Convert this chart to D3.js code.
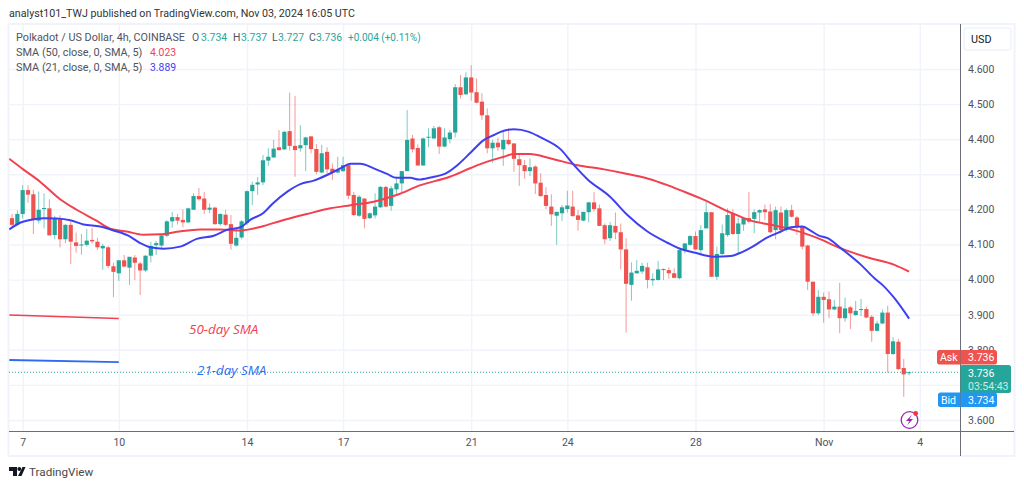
<!DOCTYPE html>
<html lang="en">
<head>
<meta charset="UTF-8"/>
<title>Polkadot / US Dollar 4h</title>
<script src="https://d3js.org/d3.v7.min.js"></script>
<style>
body { margin: 0; background: #fff; }
text { font-family: Roboto, sans-serif; }
</style>
</head>
<body>
<script>
// candles, one per 4h
var opens = [
    4.175,4.156,4.187,4.255,4.243,4.168,4.201,4.203,4.127,4.172,
    4.115,4.156,4.106,4.098,4.099,4.113,4.108,4.089,4.092,4.038,
    4.018,4.055,4.034,4.063,4.046,4.026,4.068,4.098,4.097,4.125,
    4.166,4.178,4.170,4.163,4.199,4.238,4.231,4.199,4.205,4.158,
    4.185,4.158,4.097,4.120,4.161,4.252,4.271,4.277,4.339,4.348,
    4.377,4.371,4.423,4.381,4.374,4.383,4.408,4.372,4.305,4.364,
    4.316,4.305,4.309,4.326,4.241,4.182,4.231,4.175,4.183,4.206,
    4.264,4.210,4.257,4.274,4.309,4.402,4.375,4.325,4.405,4.402,
    4.434,4.379,4.400,4.419,4.548,4.528,4.576,4.534,4.507,4.468,
    4.374,4.390,4.371,4.398,4.388,4.343,4.326,4.309,4.322,4.276,
    4.241,4.208,4.182,4.189,4.201,4.208,4.183,4.168,4.192,4.220,
    4.203,4.155,4.118,4.153,4.135,4.086,3.985,4.018,4.023,4.035,
    3.998,3.999,4.030,4.027,4.018,4.004,4.082,4.099,4.124,4.084,
    4.146,4.192,4.008,4.073,4.127,4.189,4.130,4.157,4.175,4.173,
    4.191,4.200,4.194,4.141,4.191,4.141,4.198,4.177,4.151,4.097,
    3.994,3.904,3.951,3.944,3.915,3.923,3.890,3.921,3.899,3.914,
    3.916,3.894,3.854,3.875,3.906,3.788,3.823,3.748,3.734
];
var closes = [
    4.156,4.187,4.255,4.242,4.170,4.199,4.204,4.126,4.175,4.115,
    4.156,4.108,4.096,4.100,4.111,4.109,4.092,4.096,4.039,4.022,
    4.055,4.037,4.065,4.048,4.026,4.068,4.096,4.104,4.126,4.166,
    4.178,4.168,4.163,4.203,4.238,4.229,4.199,4.205,4.158,4.187,
    4.156,4.102,4.119,4.166,4.252,4.270,4.277,4.340,4.350,4.373,
    4.369,4.421,4.381,4.369,4.383,4.405,4.372,4.307,4.360,4.314,
    4.305,4.312,4.326,4.239,4.184,4.236,4.173,4.189,4.208,4.264,
    4.208,4.260,4.274,4.309,4.398,4.371,4.325,4.402,4.407,4.431,
    4.379,4.405,4.419,4.548,4.526,4.576,4.533,4.504,4.468,4.374,
    4.390,4.377,4.398,4.386,4.344,4.326,4.309,4.320,4.274,4.238,
    4.210,4.186,4.193,4.206,4.211,4.181,4.170,4.193,4.220,4.201,
    4.153,4.115,4.155,4.134,4.086,3.988,4.020,4.025,4.039,3.999,
    4.002,4.029,4.027,4.018,4.005,4.084,4.103,4.124,4.086,4.141,
    4.192,4.008,4.073,4.132,4.184,4.130,4.160,4.175,4.165,4.192,
    4.198,4.192,4.135,4.198,4.141,4.198,4.179,4.151,4.094,3.994,
    3.904,3.951,3.942,3.915,3.923,3.890,3.918,3.904,3.911,3.916,
    3.892,3.854,3.875,3.906,3.788,3.824,3.745,3.730,3.736
];
var highs = [
    4.187,4.197,4.269,4.269,4.256,4.251,4.246,4.229,4.182,4.183,
    4.159,4.165,4.134,4.130,4.144,4.147,4.119,4.102,4.096,4.048,
    4.055,4.070,4.065,4.070,4.051,4.070,4.108,4.110,4.128,4.169,
    4.193,4.187,4.200,4.205,4.246,4.261,4.250,4.217,4.208,4.189,
    4.199,4.184,4.146,4.170,4.254,4.279,4.292,4.355,4.374,4.398,
    4.426,4.424,4.533,4.523,4.440,4.407,4.408,4.386,4.384,4.377,
    4.331,4.350,4.350,4.326,4.250,4.241,4.231,4.191,4.246,4.267,
    4.267,4.267,4.293,4.309,4.483,4.412,4.385,4.405,4.431,4.438,
    4.438,4.431,4.426,4.557,4.583,4.590,4.611,4.573,4.531,4.488,
    4.398,4.405,4.421,4.431,4.388,4.355,4.341,4.345,4.326,4.303,
    4.263,4.243,4.193,4.213,4.253,4.253,4.198,4.193,4.222,4.249,
    4.214,4.160,4.164,4.191,4.160,4.118,4.049,4.056,4.048,4.048,
    4.018,4.053,4.032,4.035,4.032,4.086,4.105,4.127,4.137,4.155,
    4.222,4.192,4.094,4.157,4.203,4.200,4.177,4.177,4.249,4.200,
    4.200,4.214,4.215,4.208,4.208,4.203,4.213,4.181,4.151,4.099,
    3.994,3.970,3.963,3.966,3.942,3.991,3.949,3.925,3.939,3.945,
    3.923,3.899,3.883,3.915,3.926,3.836,3.831,3.774,3.737
];
var lows = [
    4.153,4.153,4.174,4.219,4.130,4.160,4.146,4.126,4.115,4.092,
    4.104,4.044,4.077,4.071,4.094,4.102,4.085,4.028,4.032,3.950,
    3.996,4.035,3.985,3.999,3.956,4.022,4.049,4.070,4.091,4.121,
    4.148,4.157,4.149,4.161,4.199,4.225,4.187,4.189,4.156,4.153,
    4.153,4.085,4.094,4.115,4.156,4.212,4.241,4.269,4.324,4.346,
    4.367,4.369,4.367,4.293,4.364,4.309,4.360,4.301,4.303,4.295,
    4.284,4.303,4.307,4.229,4.181,4.179,4.146,4.172,4.174,4.204,
    4.206,4.196,4.240,4.249,4.309,4.362,4.325,4.325,4.377,4.402,
    4.358,4.377,4.388,4.405,4.516,4.526,4.510,4.502,4.455,4.360,
    4.333,4.367,4.324,4.383,4.307,4.267,4.287,4.295,4.244,4.236,
    4.201,4.153,4.099,4.167,4.191,4.179,4.139,4.166,4.163,4.194,
    4.153,4.101,4.110,4.115,4.029,3.849,3.940,4.016,4.016,3.975,
    3.982,3.997,3.999,4.003,4.004,4.001,4.075,4.096,4.084,4.070,
    4.146,4.008,3.999,4.070,4.122,4.127,4.073,4.139,4.160,4.132,
    4.160,4.170,4.132,4.115,4.137,4.137,4.177,4.127,4.086,3.970,
    3.896,3.899,3.877,3.890,3.913,3.847,3.880,3.859,3.897,3.896,
    3.890,3.823,3.852,3.873,3.735,3.785,3.742,3.666,3.727
];

// moving averages, sampled along the drawn lines (candle position, price)
var sma21Pos = [-0.5,1.5,3.4,5.9,8.4,10.9,13.4,16.5,19,21.8,24,25.9,28.4,31.5,34.6,37.8,40.3,42.8,44.6,47,49,51.5,54,56.5,59,61.5,63.4,65.25,67.75,70.25,72,74.6,76.2,78.4,81.5,83.4,85.9,88.4,90.25,92.1,94,96.8,99,102.75,105.25,107.75,112,115.25,119,122.75,125.25,127.75,131.5,134.6,136.2,138.7,141.2,144,145.9,148,149.4,151,152.75,155.25,159,161.5,163,165.25,168];
var sma21Val = [4.143,4.162,4.170,4.175,4.174,4.169,4.157,4.151,4.140,4.125,4.104,4.092,4.088,4.094,4.116,4.125,4.142,4.149,4.170,4.189,4.219,4.250,4.272,4.282,4.298,4.317,4.330,4.330,4.317,4.301,4.290,4.290,4.285,4.291,4.305,4.326,4.362,4.398,4.412,4.424,4.428,4.421,4.405,4.371,4.326,4.286,4.236,4.184,4.137,4.105,4.087,4.077,4.065,4.067,4.075,4.094,4.118,4.137,4.149,4.151,4.141,4.126,4.118,4.089,4.042,4.004,3.985,3.947,3.889];
var sma50Pos = [-0.5,2.1,5.25,9,12.1,15.9,18.4,21.5,24.6,27.75,30.9,35.25,39,42.75,46.5,50.9,55.25,59.6,63.4,67.75,72,76.5,82,85.9,89,92.1,94,97,100.9,105.9,110.9,114.6,119,122.75,125.25,129.6,134.6,138.4,142.1,146.5,150.9,155.25,160.25,165.25,168];
var sma50Val = [4.344,4.314,4.279,4.229,4.199,4.167,4.145,4.137,4.128,4.129,4.136,4.143,4.143,4.140,4.150,4.170,4.187,4.203,4.212,4.222,4.241,4.269,4.293,4.318,4.336,4.350,4.358,4.358,4.345,4.326,4.314,4.303,4.288,4.269,4.254,4.227,4.191,4.168,4.156,4.141,4.118,4.089,4.063,4.042,4.023];

// the two hand drawn legend strokes
var key50 = [3.899, 3.889];
var key21 = [3.771, 3.765];
var keySpan = [-0.5, 20];

var priceTicks = [3.6,3.7,3.8,3.9,4.0,4.1,4.2,4.3,4.4,4.5,4.6];
var dayPos = [2,20,44,62,86,104,128,152,170];
var dayLabels = ["7","10","14","17","21","24","28","Nov","4"];
var lastPrice = 3.736;

var w = 1024;
var h = 487;
var left = 9;       // chart pane edges
var right = 960;
var top_ = 25;
var bottom = 431;

var UP = "#26a69a";
var DOWN = "#ef5350";
var GRID = "#f0f3fa";
var GREY = "#50535e";
var RED_LINE = "#f2404f";
var BLUE_LINE = "#3f3ff2";

var x = d3.scaleLinear().domain([0, 168]).range([12, 909.1]);
var y = d3.scaleLinear().domain([3.6, 4.6]).range([420, 69]);

var svg = d3.select("body").append("svg")
    .attr("width", w)
    .attr("height", h)
    .style("display", "block");

svg.append("clipPath").attr("id", "pane").append("rect")
    .attr("x", left).attr("y", top_)
    .attr("width", right - left).attr("height", bottom - top_);

// outer frame
svg.append("rect")
    .attr("x", 8.5).attr("y", 24)
    .attr("width", 1006).attr("height", 432)
    .attr("fill", "none").attr("stroke", GRID).attr("stroke-width", 2);

// grid, the axes tick lines do the work
var gridX = svg.append("g")
    .attr("transform", "translate(0," + bottom + ")")
    .call(d3.axisBottom(x).tickValues(dayPos).tickSize(-(bottom - top_)).tickFormat(""));
gridX.select(".domain").remove();
gridX.selectAll("line").attr("stroke", GRID).attr("stroke-width", 1.4);

var gridY = svg.append("g")
    .attr("transform", "translate(" + right + ",0)")
    .call(d3.axisLeft(y).tickValues(priceTicks).tickSize(right - left).tickFormat(""));
gridY.select(".domain").remove();
gridY.selectAll("line").attr("stroke", GRID).attr("stroke-width", 1.4);

var pane = svg.append("g").attr("clip-path", "url(#pane)");

// last price dotted line
pane.append("line")
    .attr("x1", left).attr("x2", right)
    .attr("y1", y(lastPrice)).attr("y2", y(lastPrice))
    .attr("stroke", UP).attr("stroke-width", 1).attr("stroke-dasharray", "1 2");

// candles
var candles = pane.selectAll("g.candle")
    .data(d3.range(opens.length))
    .enter()
    .append("g")
    .attr("class", "candle");

candles.append("line")
    .attr("x1", function (i) { return x(i); })
    .attr("x2", function (i) { return x(i); })
    .attr("y1", function (i) { return y(highs[i]); })
    .attr("y2", function (i) { return y(lows[i]); })
    .attr("stroke", function (i) { return closes[i] >= opens[i] ? UP : DOWN; })
    .attr("stroke-opacity", 0.6)
    .attr("stroke-width", 1);

candles.append("rect")
    .attr("x", function (i) { return x(i) - 2.1; })
    .attr("width", 4.2)
    .attr("y", function (i) { return y(Math.max(opens[i], closes[i])); })
    .attr("height", function (i) { return Math.max(1, Math.abs(y(opens[i]) - y(closes[i]))); })
    .attr("fill", function (i) { return closes[i] >= opens[i] ? UP : DOWN; });

// moving averages
var line = d3.line()
    .x(function (d) { return x(d[0]); })
    .y(function (d) { return y(d[1]); })
    .curve(d3.curveMonotoneX);

pane.append("path")
    .datum(d3.zip(sma50Pos, sma50Val))
    .attr("d", line)
    .attr("fill", "none").attr("stroke", RED_LINE).attr("stroke-width", 2);

pane.append("path")
    .datum(d3.zip(sma21Pos, sma21Val))
    .attr("d", line)
    .attr("fill", "none").attr("stroke", BLUE_LINE).attr("stroke-width", 2);

// hand drawn key
pane.append("path")
    .datum(d3.zip(keySpan, key50))
    .attr("d", line)
    .attr("fill", "none").attr("stroke", RED_LINE).attr("stroke-width", 1.6);
pane.append("path")
    .datum(d3.zip(keySpan, key21))
    .attr("d", line)
    .attr("fill", "none").attr("stroke", "#2f6bf0").attr("stroke-width", 1.8);

function label(str, px, py, fill, size) {
    return svg.append("text").text(str)
        .attr("x", px).attr("y", py)
        .attr("fill", fill).attr("font-size", size);
}

label("50-day SMA", 189, 334, RED_LINE, 13.4)
    .attr("font-style", "italic").style("font-family", "'Open Sans'");
label("21-day SMA", 197, 375, "#2f6bf0", 13.4)
    .attr("font-style", "italic").style("font-family", "'Open Sans'");

// price axis, 3.700 sits behind the last price tag so it has no label
var axisY = svg.append("g")
    .attr("transform", "translate(" + right + ",0)")
    .call(d3.axisRight(y).tickValues(priceTicks).tickSize(0).tickPadding(8)
        .tickFormat(function (d) { return d === 3.7 ? "" : d3.format(".3f")(d); }));
axisY.select(".domain").attr("d", "M0.5,24V456").attr("stroke", "#6b6e78").attr("stroke-width", 1);
axisY.selectAll("text").style("font-family", "Roboto").attr("font-size", 10.5).attr("fill", GREY);

// time axis
var axisX = svg.append("g")
    .attr("transform", "translate(0," + bottom + ")")
    .call(d3.axisBottom(x).tickValues(dayPos).tickSize(0).tickPadding(8)
        .tickFormat(function (d, i) { return dayLabels[i]; }));
axisX.select(".domain").remove();
axisX.selectAll("text").style("font-family", "Roboto").attr("font-size", 10.5).attr("fill", GREY);
svg.append("line")
    .attr("x1", left).attr("x2", 1014)
    .attr("y1", bottom + 0.5).attr("y2", bottom + 0.5)
    .attr("stroke", "#6b6e78").attr("stroke-width", 1);

// USD button
svg.append("rect")
    .attr("x", 964).attr("y", 28).attr("width", 47).attr("height", 22).attr("rx", 3)
    .attr("fill", "#fff").attr("stroke", GRID).attr("stroke-width", 1.5);
label("USD", 971, 42.5, "#131722", 10.8);

// header and legend
label("analyst101_TWJ published on TradingView.com, Nov 03, 2024 16:05 UTC", 9, 17, "#333", 10.7);

label("Polkadot / US Dollar, 4h, COINBASE", 16, 41, GREY, 10.8);
label("O", 192, 41, GREY, 10.4);
label("3.734", 201, 41, UP, 10.4);
label("H", 233, 41, GREY, 10.4);
label("3.737", 241, 41, UP, 10.4);
label("L", 272, 41, GREY, 10.4);
label("3.727", 278, 41, UP, 10.4);
label("C", 309, 41, GREY, 10.4);
label("3.736", 316, 41, UP, 10.4);
label("+0.004 (+0.11%)", 348, 41, UP, 10);
label("SMA (50, close, 0, SMA, 5)", 16, 56, GREY, 10.9);
label("4.023", 150, 56, RED_LINE, 10.4);
label("SMA (21, close, 0, SMA, 5)", 16, 71, GREY, 10.9);
label("3.889", 150, 71, BLUE_LINE, 10.4);

// price tags
function tag(px, py, pw, ph, color) {
    svg.append("rect")
        .attr("x", px).attr("y", py).attr("width", pw).attr("height", ph)
        .attr("rx", 2.5).attr("fill", color);
}
tag(937, 350, 60, 14.5, DOWN);
tag(960, 365, 51, 28, UP);
tag(938, 392.5, 59, 14.5, "#2196f3");
svg.append("line").attr("x1", 960.5).attr("x2", 960.5).attr("y1", 350).attr("y2", 407)
    .attr("stroke", "#6b6e78").attr("stroke-opacity", 0.5);

label("Ask", 940, 361, "#fff", 10.5);
label("3.736", 968, 361, "#fff", 10.5);
label("3.736", 968, 376.5, "#fff", 10.5);
label("03:54:43", 968, 389.5, "#cdeae7", 10.5);
label("Bid", 941, 403.5, "#fff", 10.5);
label("3.734", 968, 403.5, "#fff", 10.5);

// lightning badge
svg.append("circle").attr("cx", 909.5).attr("cy", 420).attr("r", 8.3)
    .attr("fill", "#fff").attr("stroke", "#9c27b0").attr("stroke-width", 1.3);
svg.append("path").attr("d", "M912,414.5L906,421H909.5L907,425.5L913,419H909.5Z").attr("fill", "#9c27b0");
svg.append("circle").attr("cx", 915.7).attr("cy", 413.5).attr("r", 2.4).attr("fill", "#f23645");

// TradingView logo
svg.append("path")
    .attr("d", "M9,467H17V476H13V471H9Z M22.5,467H25.5L21.5,476H18Z")
    .attr("fill", "#131722");
svg.append("circle").attr("cx", 19.3).attr("cy", 469).attr("r", 1.9).attr("fill", "#131722");
label("TradingView", 29, 475.5, "#4a4a4a", 11.7);
</script>
</body>
</html>
